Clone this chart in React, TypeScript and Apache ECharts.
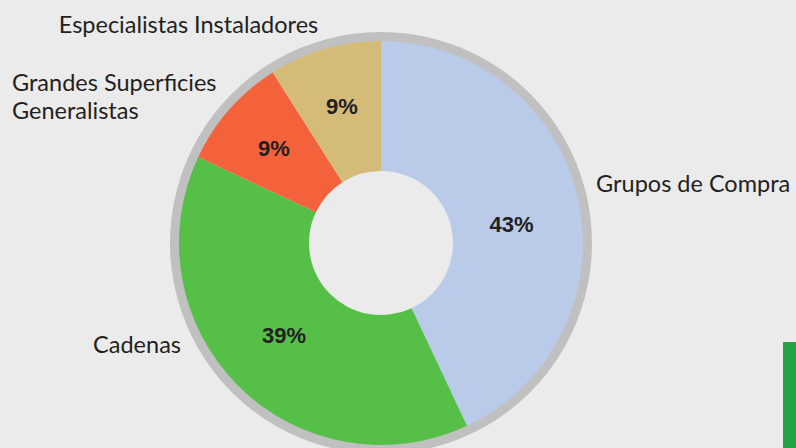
import React, { useEffect, useRef } from "react";
import * as echarts from "echarts";

const categories = [
  "Grupos de Compra",
  "Cadenas",
  "Grandes Superficies\nGeneralistas",
  "Especialistas Instaladores",
];
const values = [43, 39, 9, 9];
const colors = ["#b9cbe9", "#55bf48", "#f4623c", "#d5bb78"];

export default function App() {
  const ref = useRef<HTMLDivElement>(null);
  useEffect(() => {
    const chart = echarts.init(ref.current!, null, { renderer: "svg" });
    const labelFont = "Lato, 'Open Sans', sans-serif";
    const labelPos: { x: number; y: number; align: string }[] = [
      { x: 596, y: 183, align: "left" },
      { x: 181, y: 344, align: "right" },
      { x: 12, y: 96, align: "left" },
      { x: 188.5, y: 23.5, align: "center" },
    ];
    const pctOffsets: number[][] = [
      [-6, 12],
      [2, -6],
      [-2, -1.5],
      [0, -2.5],
    ];
    chart.setOption({
      animation: false,
      backgroundColor: "#ebebeb",
      series: [
        {
          type: "pie",
          silent: true,
          center: [381, 243],
          radius: [201, 211],
          label: { show: false },
          labelLine: { show: false },
          itemStyle: { color: "#c0c0c0" },
          data: [{ value: 1, name: "ring" }],
        },
        {
          type: "pie",
          center: [381, 243],
          radius: [72, 202],
          startAngle: 90,
          clockwise: true,
          avoidLabelOverlap: false,
          label: {
            show: true,
            position: "inside",
            formatter: "{c}%",
            color: "#231f20",
            fontFamily: "Arial, 'Liberation Sans', sans-serif",
            fontWeight: "bold",
            fontSize: 22,
          },
          labelLine: { show: false },
          itemStyle: { borderWidth: 0 },
          data: values.map((v, i) => ({
            value: v,
            name: categories[i],
            itemStyle: { color: colors[i] },
            label: { offset: pctOffsets[i] },
          })),
        },
      ],
      graphic: [
        ...categories.map((c, i) => ({
          type: "text",
          x: labelPos[i].x,
          y: labelPos[i].y,
          style: {
            text: c,
            fill: "#231f20",
            font: `23.5px ${labelFont}`,
            textAlign: labelPos[i].align,
            textVerticalAlign: "middle",
            lineHeight: 28,
          },
        })),
        {
          type: "rect",
          shape: { x: 783, y: 342, width: 20, height: 120 },
          style: { fill: "#22a645" },
        },
      ],
    });
    return () => chart.dispose();
  }, []);
  return (
    <div
      ref={ref}
      style={{ position: "absolute", left: 0, top: 0, width: 796, height: 448 }}
    />
  );
}
